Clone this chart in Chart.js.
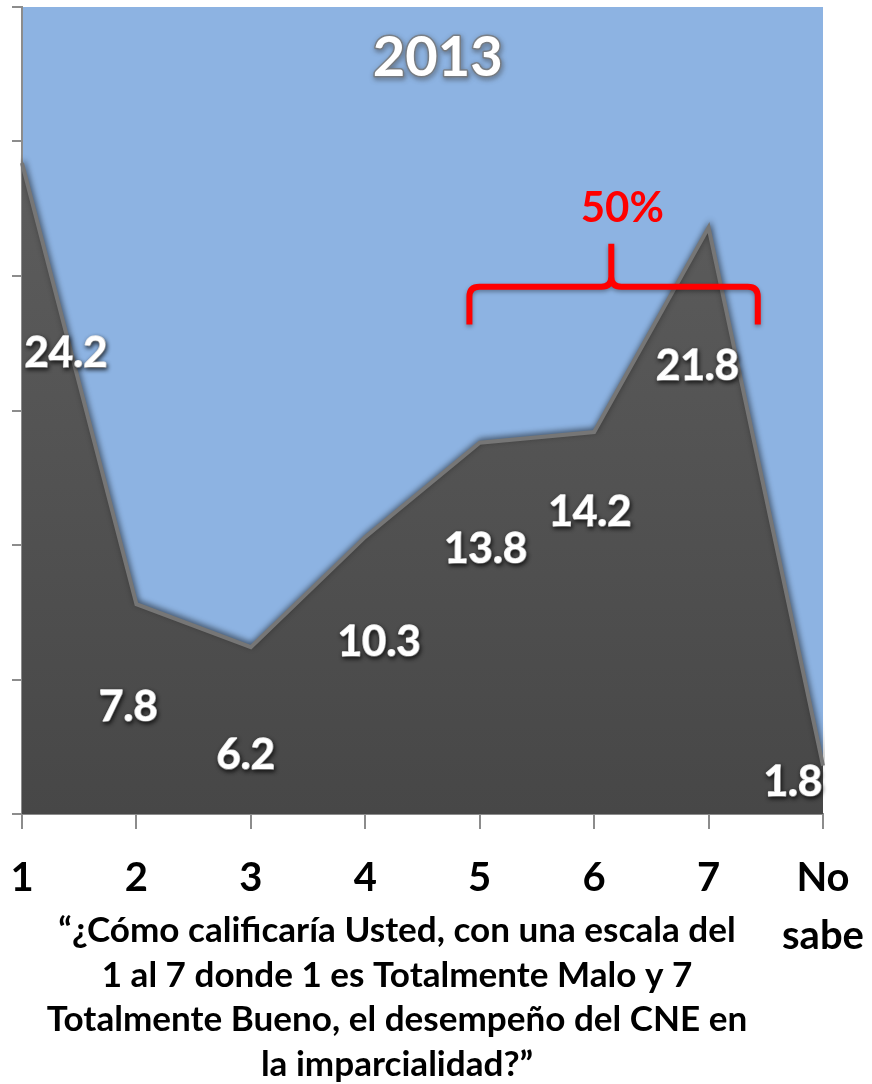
<!DOCTYPE html>
<html>
<head>
<meta charset="utf-8">
<script src="https://cdn.jsdelivr.net/npm/chart.js@4.4.1/dist/chart.umd.min.js"></script>
<style>
  body { margin: 0; background: #fff; }
  #wrap { width: 872px; height: 1084px; position: relative; }
</style>
</head>
<body>
<div id="wrap"><canvas id="myChart"></canvas></div>
<script>
const categories = ['1', '2', '3', '4', '5', '6', '7', ['No', 'sabe']];
const values = [24.2, 7.8, 6.2, 10.3, 13.8, 14.2, 21.8, 1.8];
const yTicks = [0, 5, 10, 15, 20, 25, 30];
const titleText = '2013';
const bracketText = '50%';
const questionLines = [
    '\u201c¿Cómo calificaría Usted, con una escala del',
    '1 al 7 donde 1 es Totalmente Malo y 7',
    'Totalmente Bueno, el desempeño del CNE en',
    'la imparcialidad?\u201d'
];

// where each value label sits, relative to its point (px)
const labelOffsets = [[44, 190], [-8, 103], [-5, 108], [14, 106], [6, 107], [-4, 80], [-11, 139], [-30, 17]];

const FONT = 'Lato, "Open Sans", sans-serif';

const decorPlugin = {
    id: 'decor',
    beforeDraw(chart) {
        const { ctx, chartArea: a } = chart;
        ctx.save();
        ctx.fillStyle = '#8DB3E2';
        ctx.fillRect(a.left, a.top, a.width, a.height);
        ctx.restore();
    },
    beforeDatasetsDraw(chart) {
        const ctx = chart.ctx;
        ctx.save();
        ctx.shadowColor = 'rgba(0,0,0,0.45)';
        ctx.shadowBlur = 6;
        ctx.shadowOffsetX = 1;
        ctx.shadowOffsetY = -2;
    },
    afterDatasetsDraw(chart) {
        const { ctx, chartArea: a, scales } = chart;
        ctx.restore();
        const x = scales.x, y = scales.y;

        // value labels
        ctx.save();
        ctx.font = 'bold 42px ' + FONT;
        ctx.textAlign = 'center';
        ctx.textBaseline = 'middle';
        ctx.fillStyle = '#fff';
        ctx.strokeStyle = '#fff';
        ctx.lineWidth = 1.5;
        ctx.lineJoin = 'round';
        ctx.shadowColor = 'rgba(0,0,0,0.7)';
        ctx.shadowBlur = 4;
        ctx.shadowOffsetX = 1;
        ctx.shadowOffsetY = 2;
        values.forEach((v, i) => {
            const px = x.getPixelForValue(i) + labelOffsets[i][0];
            const py = y.getPixelForValue(v) + labelOffsets[i][1];
            ctx.strokeText(v.toFixed(1), px, py);
            ctx.fillText(v.toFixed(1), px, py);
        });
        ctx.restore();

        // title
        ctx.save();
        ctx.font = 'bold 56px ' + FONT;
        ctx.textAlign = 'center';
        ctx.textBaseline = 'middle';
        ctx.shadowColor = 'rgba(60,60,60,0.9)';
        ctx.shadowBlur = 5;
        ctx.shadowOffsetX = 1;
        ctx.shadowOffsetY = 2;
        ctx.lineWidth = 3;
        ctx.lineJoin = 'round';
        ctx.strokeStyle = 'rgba(120,120,120,0.8)';
        ctx.strokeText(titleText, a.left + a.width * 0.519, a.top + 51);
        ctx.shadowColor = 'transparent';
        ctx.fillStyle = '#fff';
        ctx.fillText(titleText, a.left + a.width * 0.519, a.top + 51);
        ctx.restore();

        // bracket over 5..7
        const bl = x.getPixelForValue(3.91), br = x.getPixelForValue(6.43);
        const bm = x.getPixelForValue(5.15);
        const by = y.getPixelForValue(19.6);
        const bBottom = y.getPixelForValue(18.2), bTop = y.getPixelForValue(21.2);
        ctx.save();
        ctx.strokeStyle = '#FF0000';
        ctx.lineWidth = 6;
        ctx.lineCap = 'butt';
        ctx.lineJoin = 'round';
        ctx.shadowColor = 'rgba(0,0,0,0.35)';
        ctx.shadowBlur = 4;
        ctx.shadowOffsetY = 2;
        const r = 10;
        ctx.beginPath();
        ctx.moveTo(bl, bBottom);
        ctx.lineTo(bl, by + r);
        ctx.quadraticCurveTo(bl, by, bl + r, by);
        ctx.lineTo(bm - r, by);
        ctx.quadraticCurveTo(bm, by, bm, by - r);
        ctx.lineTo(bm, bTop);
        ctx.moveTo(bm, by - r);
        ctx.quadraticCurveTo(bm, by, bm + r, by);
        ctx.lineTo(br - r, by);
        ctx.quadraticCurveTo(br, by, br, by + r);
        ctx.lineTo(br, bBottom);
        ctx.stroke();
        ctx.font = 'bold 42px ' + FONT;
        ctx.fillStyle = '#FF0000';
        ctx.textAlign = 'center';
        ctx.textBaseline = 'middle';
        ctx.shadowColor = 'transparent';
        ctx.fillText(bracketText, bm + 11, y.getPixelForValue(22.5));
        ctx.restore();

        // question below the axis
        ctx.save();
        ctx.fillStyle = '#000';
        ctx.textAlign = 'center';
        ctx.textBaseline = 'middle';
        ctx.font = 'bold 30px ' + FONT;
        const w = ctx.measureText(questionLines[0]).width;
        const size = 30 * 677 / w;
        ctx.font = 'bold ' + size.toFixed(1) + 'px ' + FONT;
        questionLines.forEach((line, i) => {
            ctx.fillText(line, 397, a.bottom + 117 + i * 44.5);
        });
        ctx.restore();
    }
};

getContext();
function getContext() {
    const data = {
        labels: categories,
        datasets: [createDataset('2013', values)]
    };
    generateChart(data);
}

function createDataset(text, data) {
    return {
        label: text,
        data: data,
        fill: 'origin',
        backgroundColor: (c) => {
            const a = c.chart.chartArea;
            if (!a) return '#555';
            const g = c.chart.ctx.createLinearGradient(0, a.top, 0, a.bottom);
            g.addColorStop(0, '#626262');
            g.addColorStop(1, '#474747');
            return g;
        },
        borderColor: '#767676',
        borderWidth: 4,
        pointRadius: 0,
        tension: 0
    };
}

function generateChart(data) {
    const ctx = document.getElementById('myChart');

    new Chart(ctx, {
        type: 'line',
        data: data,
        plugins: [decorPlugin],
        options: {
            responsive: true,
            maintainAspectRatio: false,
            animation: false,
            layout: {
                padding: { top: 7, left: 12, right: 49, bottom: 99 }
            },
            scales: {
                x: {
                    offset: false,
                    // labels may hang past the plot edges, as in the original
                    afterFit: (axis) => {
                        axis.paddingLeft = 0;
                        axis.paddingRight = 0;
                    },
                    grid: {
                        drawOnChartArea: false,
                        color: '#8c8c8c',
                        lineWidth: 2,
                        tickLength: 15
                    },
                    border: { color: '#8c8c8c', width: 2 },
                    ticks: {
                        color: '#000',
                        padding: 20,
                        maxRotation: 0,
                        autoSkip: false,
                        font: { family: FONT, size: 40, weight: 'bold', lineHeight: 1.45 }
                    }
                },
                y: {
                    min: yTicks[0],
                    max: yTicks[yTicks.length - 1],
                    afterBuildTicks: (axis) => {
                        axis.ticks = yTicks.map(v => ({ value: v }));
                    },
                    grid: {
                        drawOnChartArea: false,
                        color: '#8c8c8c',
                        lineWidth: 2,
                        tickLength: 10
                    },
                    border: { color: '#8c8c8c', width: 2 },
                    ticks: { display: false }
                }
            },
            plugins: {
                legend: { display: false },
                tooltip: { enabled: false }
            }
        }
    });
}
</script>
</body>
</html>
